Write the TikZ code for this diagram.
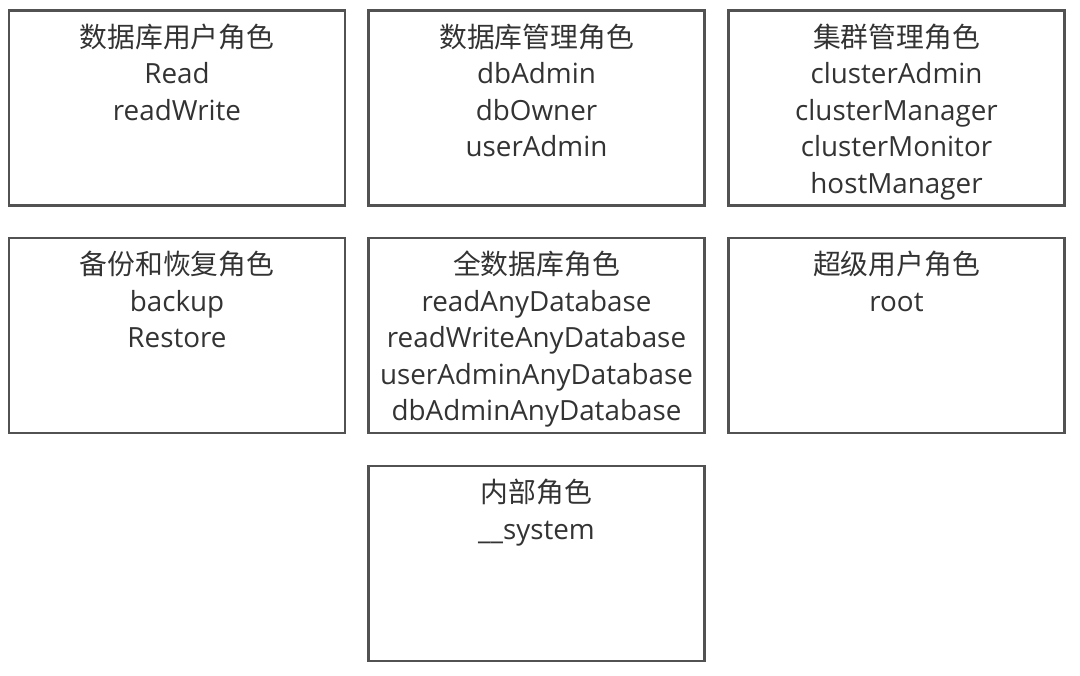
\documentclass[tikz,border=0pt]{standalone}
\usepackage{fontspec}
\setmainfont{Open Sans}
\newfontfamily\cjkfont{Noto Sans CJK SC}
\usetikzlibrary{positioning}

\tikzset{
every picture/.style={
line width=1pt
}}

\begin{document}
\begin{tikzpicture}[x=1pt, y=-1pt,
rolebox/.style = {rectangle, draw=black!68, line width=2.8pt, minimum width=336pt, minimum height=195pt, inner sep=0pt},
roletext/.style = {anchor=north, align=center, inner sep=0pt, text=black!80, font=\fontsize{27.8}{36.5}\selectfont, below=14pt of #1.north}]
\useasboundingbox (0,0) rectangle (1080,676);
\node[rolebox] at (177,108) (dbuser) {};
\node[rolebox] at (536.5,108) (dbadmin) {};
\node[rolebox] at (896.5,108) (cluster) {};
\node[rolebox] at (177,335.5) (backup) {};
\node[rolebox] at (536.5,335.5) (alldb) {};
\node[rolebox] at (896.5,335.5) (superuser) {};
\node[rolebox] at (536.5,563.5) (internal) {};
% texts
\node[roletext=dbuser] (dbuser-t) {{\cjkfont 数据库用户角色}\\Read\\readWrite};
\node[roletext=dbadmin] (dbadmin-t) {{\cjkfont 数据库管理角色}\\dbAdmin\\dbOwner\\userAdmin};
\node[roletext=cluster] (cluster-t) {{\cjkfont 集群管理角色}\\clusterAdmin\\clusterManager\\clusterMonitor\\hostManager};
\node[roletext=backup] (backup-t) {{\cjkfont 备份和恢复角色}\\backup\\Restore};
\node[roletext=alldb] (alldb-t) {{\cjkfont 全数据库角色}\\readAnyDatabase\\readWriteAnyDatabase\\userAdminAnyDatabase\\dbAdminAnyDatabase};
\node[roletext=superuser] (superuser-t) {{\cjkfont 超级用户角色}\\root};
\node[roletext=internal] (internal-t) {{\cjkfont 内部角色}\\\_\_system};
\end{tikzpicture}
\end{document}
